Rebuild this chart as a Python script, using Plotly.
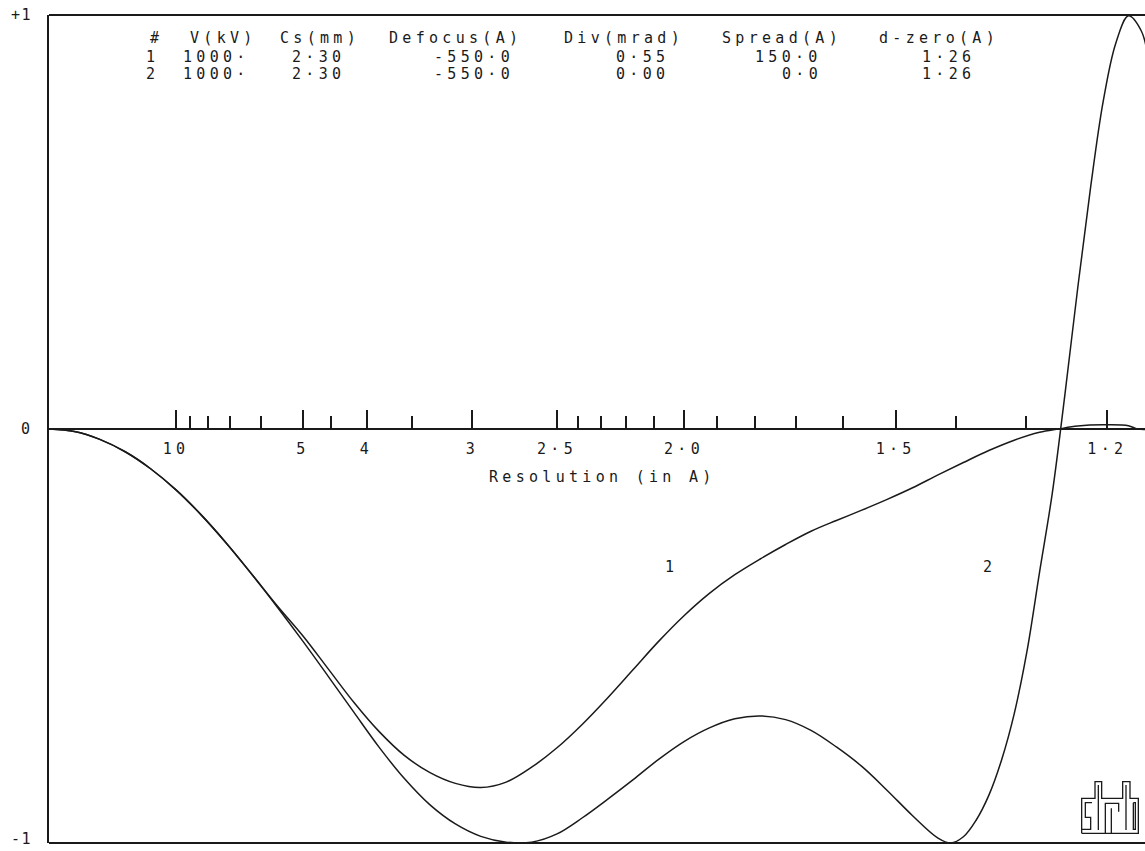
import plotly.graph_objects as go

# ---------------- data ----------------
# spatial frequency (1/A) and contrast transfer values
freq_2 = [0.0, 0.02, 0.04, 0.06, 0.08, 0.10, 0.12, 0.14, 0.16, 0.18,
          0.20, 0.22, 0.24, 0.26, 0.28, 0.30, 0.32, 0.34, 0.36, 0.38,
          0.40, 0.42, 0.44, 0.46, 0.48, 0.50, 0.52, 0.54, 0.56, 0.58,
          0.60, 0.62, 0.64, 0.66, 0.68, 0.70, 0.71, 0.72, 0.73, 0.74,
          0.75, 0.76, 0.77, 0.78, 0.79, 0.80, 0.81, 0.82, 0.83, 0.84,
          0.85, 0.86, 0.865]
ctf_2 = [0.0, -0.006, -0.025, -0.055, -0.096, -0.147, -0.208, -0.277, -0.352, -0.431,
         -0.513, -0.598, -0.684, -0.769, -0.845, -0.908, -0.954, -0.984, -0.998, -0.998,
         -0.978, -0.939, -0.894, -0.847, -0.798, -0.755, -0.722, -0.700, -0.693, -0.702,
         -0.728, -0.768, -0.815, -0.873, -0.934, -0.988, -1.0, -0.985, -0.945, -0.885,
         -0.800, -0.688, -0.538, -0.345, -0.155, 0.085, 0.340, 0.580, 0.790, 0.932,
         0.998, 0.962, 0.905]

freq_1 = [0.0, 0.02, 0.04, 0.06, 0.08, 0.10, 0.12, 0.14, 0.16, 0.18,
          0.20, 0.22, 0.24, 0.26, 0.28, 0.30, 0.32, 0.34, 0.36, 0.38,
          0.40, 0.42, 0.44, 0.46, 0.48, 0.50, 0.52, 0.54, 0.56, 0.58,
          0.60, 0.62, 0.64, 0.66, 0.68, 0.70, 0.72, 0.74, 0.76, 0.78,
          0.795, 0.81, 0.83, 0.85, 0.857, 0.865]
ctf_1 = [0.0, -0.006, -0.025, -0.055, -0.096, -0.147, -0.208, -0.277, -0.352, -0.428,
         -0.500, -0.580, -0.660, -0.731, -0.789, -0.830, -0.856, -0.866, -0.853, -0.817,
         -0.770, -0.713, -0.649, -0.581, -0.513, -0.451, -0.397, -0.352, -0.314, -0.279,
         -0.247, -0.221, -0.196, -0.170, -0.142, -0.111, -0.081, -0.052, -0.027, -0.008,
         0.0, 0.007, 0.010, 0.008, 0.0, -0.001]

major_res = [10, 5, 4, 3, 2.5, 2.0, 1.5, 1.2]
major_labels = ["10", "5", "4", "3", "2·5", "2·0", "1·5", "1·2"]
minor_res = [9, 8, 7, 6, 4.5, 3.5, 2.4, 2.3, 2.2, 2.1, 1.9, 1.8, 1.7, 1.6, 1.4, 1.3]

table_header = ["#", "V(kV)", "Cs(mm)", "Defocus(A)", "Div(mrad)", "Spread(A)", "d-zero(A)"]
table_rows = [
    ["1", "1000·", "2·30", "-550·0", "0·55", "150·0", "1·26"],
    ["2", "1000·", "2·30", "-550·0", "0·00", "0·0", "1·26"],
]
y_labels = ["+1", "0", "-1"]
y_label_vals = [1, 0, -1]

# ---------------- layout helpers ----------------
W, H = 1145, 851
ML, MR, MT, MB = 49, 0, 15, 8
PW, PH = W - ML - MR, H - MT - MB
XMAX = PW / 1270.0


def px(x):
    return (x - ML) / PW


def py(y):
    return (H - MB - y) / PH


FONT = "DejaVu Sans Mono"
INK = "#1a1a1a"


def sp(t, s=4.3):
    return '<span style="letter-spacing:%gpx">%s</span>' % (s, t)


fig = go.Figure()
for fx, cy in ((freq_1, ctf_1), (freq_2, ctf_2)):
    fig.add_trace(go.Scatter(x=fx, y=cy, mode="lines",
                             line=dict(color=INK, width=1.5, shape="spline", smoothing=1.0),
                             showlegend=False, hoverinfo="skip"))

annotations = []
# parameter table
head_left = [148, 188, 278, 387, 562, 720, 877]
val_right = [157, 248, 343, 512, 667, 820, 973]
row_y = [38, 57, 74]
for t, xl in zip(table_header, head_left):
    annotations.append(dict(x=px(xl), y=py(row_y[0]), xref="paper", yref="paper", text=sp(t), showarrow=False,
                            xanchor="left", yanchor="middle", font=dict(family=FONT, size=15, color=INK)))
for r, row in enumerate(table_rows):
    for t, xr in zip(row, val_right):
        annotations.append(dict(x=px(xr + 4), y=py(row_y[r + 1]), xref="paper", yref="paper", text=sp(t),
                                showarrow=False, xanchor="right", yanchor="middle",
                                font=dict(family=FONT, size=15, color=INK)))
# y labels
y_label_py = [15, 429, 839]
for t, ypx in zip(y_labels, y_label_py):
    annotations.append(dict(x=px(34), y=py(ypx), xref="paper", yref="paper", text=sp(t, 1.5), showarrow=False,
                            xanchor="right", yanchor="middle", font=dict(family=FONT, size=15, color=INK)))
# axis title
annotations.append(dict(x=px(602), y=py(477), xref="paper", yref="paper", text=sp("Resolution (in A)", 4.3),
                        showarrow=False, xanchor="center", yanchor="middle",
                        font=dict(family=FONT, size=15, color=INK)))
# curve labels
annotations.append(dict(x=px(669), y=py(578), xref="paper", yref="paper", text="1", showarrow=False,
                        font=dict(family=FONT, size=15, color=INK)))
annotations.append(dict(x=px(994), y=py(578), xref="paper", yref="paper", text="2", showarrow=False,
                        font=dict(family=FONT, size=15, color=INK)))

shapes = []
# frame: top & bottom
for yy in (0, 1):
    shapes.append(dict(type="line", xref="paper", yref="paper", x0=0, x1=1, y0=yy, y1=yy,
                       line=dict(color=INK, width=2)))


# logo (decorative outline)
def logo_path(pts_list):
    d = ""
    for pts in pts_list:
        for i, (zx, zy) in enumerate(pts):
            X = px(1040 + zx / 3.0)
            Y = py(740 + zy / 3.0)
            d += ("M" if i == 0 else "L") + "%.5f,%.5f " % (X, Y)
    return d


logo = [
    [(125, 280), (125, 175), (165, 175), (165, 125), (185, 125), (185, 175), (248, 175), (248, 125),
     (270, 125), (270, 175), (295, 175), (295, 280), (125, 280)],
    [(156, 188), (136, 188), (136, 232), (152, 232), (152, 268), (125, 268)],
    [(175, 135), (175, 270)],
    [(196, 280), (196, 190), (236, 190), (236, 215)],
    [(214, 280), (214, 205)],
    [(258, 135), (258, 270)],
    [(280, 188), (286, 188), (286, 268), (280, 268), (280, 188)],
]
shapes.append(dict(type="path", xref="paper", yref="paper", path=logo_path(logo),
                   line=dict(color=INK, width=1.3)))

fig.update_layout(
    width=W, height=H,
    margin=dict(l=ML, r=MR, t=MT, b=MB),
    paper_bgcolor="white", plot_bgcolor="white",
    annotations=annotations, shapes=shapes,
    xaxis=dict(range=[0, XMAX], anchor="free", position=0.5, showline=True, linecolor=INK, linewidth=2,
               showgrid=False, zeroline=False,
               tickmode="array", tickvals=[1.0 / r for r in major_res],
               ticktext=[sp(t, 4.3) for t in major_labels],
               ticks="inside", ticklen=18, tickwidth=1.6, tickcolor=INK, ticklabelstandoff=6,
               tickfont=dict(family=FONT, size=15, color=INK),
               minor=dict(tickmode="array", tickvals=[1.0 / r for r in minor_res], ticks="inside", ticklen=12,
                          tickwidth=1.6, tickcolor=INK)),
    yaxis=dict(range=[-1, 1], showline=True, linecolor=INK, linewidth=2, showgrid=False, zeroline=False,
               showticklabels=False, ticks=""),
)

fig.write_html("out.html", config={"displayModeBar": False},
               post_script="document.body.style.margin='0';document.body.style.overflow='hidden';")
